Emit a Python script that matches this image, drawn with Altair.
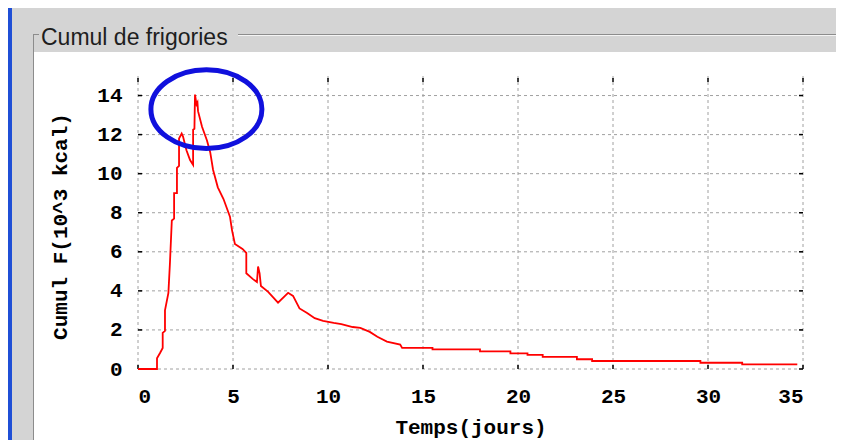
import altair as alt
import pandas as pd

# ---- data ----
days = [0.0, 1.0, 1.0, 1.16, 1.3, 1.3, 1.42, 1.42, 1.6, 1.68, 1.78, 1.9, 1.9, 2.05, 2.05,
        2.16, 2.16, 2.3, 2.37, 2.55, 2.74, 2.9, 2.9, 2.97, 3.0, 3.08, 3.13, 3.16, 3.37,
        3.63, 3.8, 3.95, 4.2, 4.5, 4.84, 4.95, 5.1, 5.5, 5.7, 5.7, 6.05, 6.26, 6.32, 6.4,
        6.47, 6.85, 7.37, 7.9, 8.16, 8.5, 8.9, 9.3, 9.74, 10.3, 10.7, 11.3, 11.7, 12.2,
        12.6, 13.1, 13.8, 13.9, 15.5, 15.5, 18.0, 18.0, 19.6, 19.6, 20.5, 20.5, 21.3, 21.3,
        23.1, 23.1, 23.9, 23.9, 29.6, 29.6, 31.8, 31.8, 34.7]
cumul = [0.0, 0.0, 0.55, 0.82, 1.08, 1.85, 1.95, 3.0, 3.9, 5.4, 7.6, 7.7, 9.0, 9.0, 10.3,
         10.4, 11.8, 12.05, 11.9, 11.2, 10.7, 10.45, 12.25, 12.3, 14.05, 13.55, 13.65, 13.2, 12.4,
         11.7, 11.1, 10.2, 9.3, 8.7, 7.8, 7.1, 6.4, 6.15, 5.95, 4.9, 4.6, 4.45, 5.25, 4.9,
         4.25, 3.95, 3.4, 3.9, 3.74, 3.1, 2.87, 2.6, 2.46, 2.36, 2.3, 2.15, 2.1, 1.9,
         1.65, 1.4, 1.25, 1.08, 1.08, 1.0, 1.0, 0.9, 0.9, 0.8, 0.8, 0.72, 0.72, 0.62,
         0.62, 0.5, 0.5, 0.41, 0.41, 0.32, 0.32, 0.24, 0.24]
x_ticks = [0, 5, 10, 15, 20, 25, 30, 35]
y_ticks = [0, 2, 4, 6, 8, 10, 12, 14]
panel_title = "Cumul de frigories"
x_title = "Temps(jours)"
y_title = "Cumul F(10^3 kcal)"
highlight_day = [3.6]
highlight_val = [13.3]

W, H = 665, 293
MONO = "Liberation Mono"

df = pd.DataFrame({"t": days, "f": cumul})
xt = pd.DataFrame({"t": x_ticks})
yt = pd.DataFrame({"f": y_ticks})
hl = pd.DataFrame({"t": highlight_day, "f": highlight_val})
one = pd.DataFrame({"k": [0]})

xs = alt.Scale(domain=[0, 35], nice=False, zero=False)
ys = alt.Scale(domain=[0, 15], nice=False, zero=False)

xaxis = alt.Axis(
    values=x_ticks, title=x_title, grid=False, domain=False, ticks=False,
    labelFont=MONO, labelFontWeight="bold", labelFontSize=21, labelColor="black",
    labelPadding=16, titleFont=MONO, titleFontWeight="bold", titleFontSize=21,
    titleColor="black", titleBaseline="alphabetic", titleY=64, zindex=1)
yaxis = alt.Axis(
    values=y_ticks, title=y_title, grid=False, domain=False, ticks=False,
    labelFont=MONO, labelFontWeight="bold", labelFontSize=21, labelColor="black",
    labelPadding=16, titleFont=MONO, titleFontWeight="bold", titleFontSize=21,
    titleColor="black", titleAngle=270, titleBaseline="alphabetic",
    titleAlign="center", titleX=-72, titleY=150, zindex=1)

X = lambda: alt.X("t:Q", scale=xs, axis=xaxis, title=x_title)
Y = lambda: alt.Y("f:Q", scale=ys, axis=yaxis, title=y_title)

# ---- frame decoration (Java titled panel look) ----
panel = alt.Chart(one).mark_rect(fill="white").encode(
    x=alt.value(-105), x2=alt.value(704), y=alt.value(-24), y2=alt.value(369))
blue_bar = alt.Chart(one).mark_rect(fill="#1f4fd6").encode(
    x=alt.value(-133), x2=alt.value(-126), y=alt.value(-70), y2=alt.value(372))
line_dark_l = alt.Chart(one).mark_rule(color="#8c8c8c", strokeWidth=1).encode(
    x=alt.value(-105), x2=alt.value(-99), y=alt.value(-41.5))
line_dark_r = alt.Chart(one).mark_rule(color="#8c8c8c", strokeWidth=1).encode(
    x=alt.value(100), x2=alt.value(704), y=alt.value(-41.5))
line_light_r = alt.Chart(one).mark_rule(color="#f4f4f4", strokeWidth=1).encode(
    x=alt.value(100), x2=alt.value(704), y=alt.value(-40.5))
line_dark_v = alt.Chart(one).mark_rule(color="#8c8c8c", strokeWidth=1).encode(
    x=alt.value(-104.5), y=alt.value(-41.5), y2=alt.value(369))
title_txt = alt.Chart(one).mark_text(
    text=panel_title, font="Liberation Sans", fontSize=23, color="#1e1e1e",
    align="left", baseline="alphabetic").encode(x=alt.value(-97), y=alt.value(-31))

# ---- grid (dashed) ----
grid_style = dict(color="#a0a0a0", strokeWidth=1, strokeDash=[3, 3])
vgrid = alt.Chart(xt).mark_rule(**grid_style).encode(x=X())
hgrid = alt.Chart(yt).mark_rule(**grid_style).encode(y=Y())

# ---- small inside tick marks on all four sides ----
tk = dict(color="black", strokeWidth=1.5)
tick_b = alt.Chart(xt).mark_rule(**tk).encode(x=X(), y=alt.value(H - 4), y2=alt.value(H))
tick_t = alt.Chart(xt).mark_rule(**tk).encode(x=X(), y=alt.value(2), y2=alt.value(6))
tick_l = alt.Chart(yt).mark_rule(**tk).encode(y=Y(), x=alt.value(0), x2=alt.value(4))
tick_r = alt.Chart(yt).mark_rule(**tk).encode(y=Y(), x=alt.value(W - 4), x2=alt.value(W))

# ---- data line ----
line = alt.Chart(df).mark_line(color="#ff0000", strokeWidth=1.8).encode(
    x=X(), y=Y(), order=alt.Order("idx:Q"),
).transform_window(idx="row_number()")

# ---- blue ellipse annotation ----
ellipse = alt.Chart(hl).mark_point(
    shape="M -1 0 A 1 0.71 0 1 1 1 0 A 1 0.71 0 1 1 -1 0 Z",
    filled=False, stroke="#1010dd", strokeWidth=5, opacity=1, size=12321).encode(
    x=X(), y=Y())

chart = alt.layer(
    panel, blue_bar, line_dark_l, line_dark_r, line_light_r, line_dark_v, title_txt,
    vgrid, hgrid, tick_b, tick_t, tick_l, tick_r, line, ellipse
).properties(
    width=W, height=H,
    autosize=alt.AutoSizeParams(type="none"),
    padding={"left": 130, "top": 68, "right": 33, "bottom": 71},
    background="#d4d4d4",
).configure_view(stroke=None)

chart.save("out.html", embed_options={"renderer": "svg", "actions": False})
